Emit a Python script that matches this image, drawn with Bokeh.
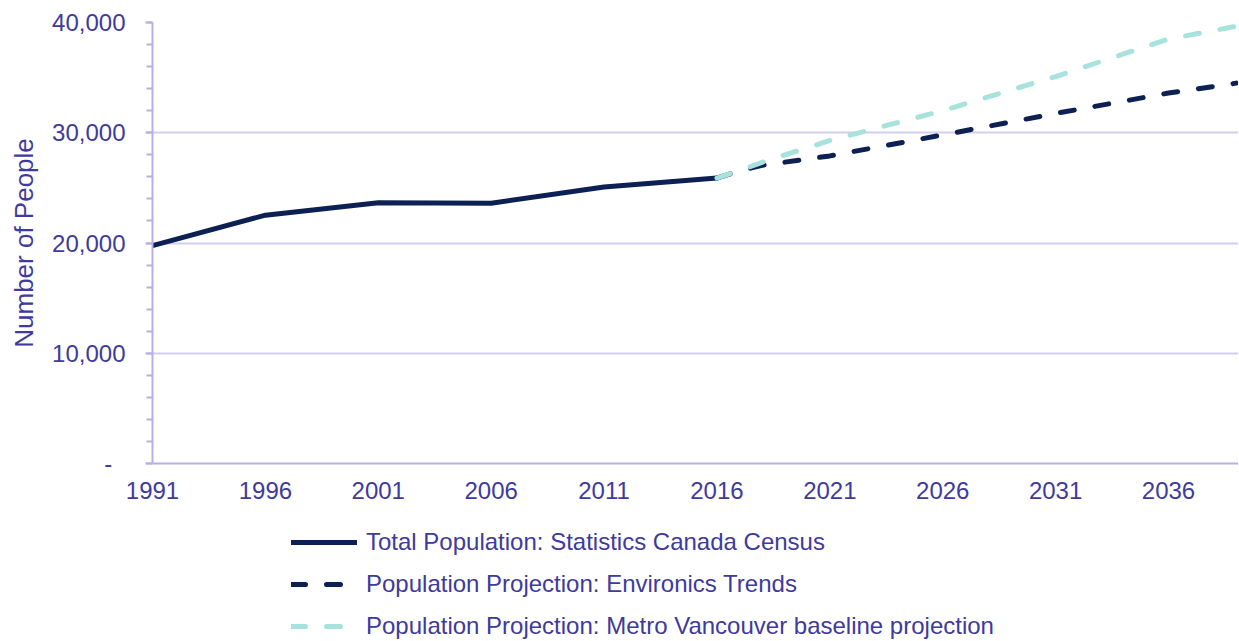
from bokeh.plotting import figure
from bokeh.layouts import column
from bokeh.models import Range1d, FixedTicker, Legend, LegendItem
from bokeh.embed import file_html
from bokeh.resources import INLINE

# ---- data ----
census_years = [1991, 1996, 2001, 2006, 2011, 2016]
census_pop = [19765, 22523, 23643, 23606, 25081, 25888]

env_years = [2016, 2017, 2018, 2021, 2026, 2031, 2036, 2039]
env_pop = [25888, 26550, 27050, 27900, 29800, 31750, 33600, 34500]

mv_years = [2016, 2017, 2018, 2021, 2026, 2031, 2036, 2039]
mv_pop = [25888, 26560, 27320, 29300, 32000, 35100, 38500, 39650]

x_ticks = [1991, 1996, 2001, 2006, 2011, 2016, 2021, 2026, 2031, 2036]
y_ticks = [0, 10000, 20000, 30000, 40000]
y_tick_labels = {0: "-\u2007", 10000: "10,000", 20000: "20,000", 30000: "30,000", 40000: "40,000"}

series_labels = [
    "Total Population: Statistics Canada Census",
    "Population Projection: Environics Trends",
    "Population Projection: Metro Vancouver baseline projection",
]

NAVY = "#0c2054"
TEAL = "#a7e3dc"
TEXT = "#3e3a9e"
AXIS = "#b6b0e4"
GRID = "#d2cef2"
FONT = "Liberation Sans"

styles = [
    dict(line_color=NAVY, line_width=5, line_cap="round", line_join="round"),
    dict(line_color=NAVY, line_width=5, line_dash="14 21", line_cap="round"),
    dict(line_color=TEAL, line_width=5, line_dash="14 21", line_cap="round"),
]

p = figure(width=1238, height=526, output_backend="svg", toolbar_location=None,
           x_range=Range1d(1991, 2039.1), y_range=Range1d(0, 40000),
           min_border_left=152, min_border_right=0, min_border_top=22,
           min_border_bottom=63)
p.outline_line_color = None
p.background_fill_color = "white"

p.line(census_years, census_pop, **styles[0])
p.line(env_years, env_pop, **styles[1])
p.line(mv_years, mv_pop, **styles[2])

# x axis
xa = p.xaxis[0]
xa.ticker = FixedTicker(ticks=x_ticks)
xa.major_tick_out = 0
xa.major_tick_in = 0
xa.minor_tick_out = 0
xa.minor_tick_in = 0
xa.axis_line_color = AXIS
xa.axis_line_width = 2
xa.major_label_text_font = FONT
xa.major_label_text_font_size = "24px"
xa.major_label_text_color = TEXT
xa.major_label_standoff = 18

# y axis
ya = p.yaxis[0]
ya.ticker = FixedTicker(ticks=y_ticks, minor_ticks=list(range(0, 40001, 2000)))
ya.major_label_overrides = y_tick_labels
ya.major_tick_out = 7
ya.major_tick_in = 0
ya.minor_tick_out = 6
ya.minor_tick_in = 0
ya.major_tick_line_color = AXIS
ya.minor_tick_line_color = AXIS
ya.major_tick_line_width = 2
ya.minor_tick_line_width = 2
ya.axis_line_color = AXIS
ya.axis_line_width = 2
ya.major_label_text_font = FONT
ya.major_label_text_font_size = "24px"
ya.major_label_text_color = TEXT
ya.major_label_standoff = 20
ya.axis_label = "Number of People"
ya.axis_label_text_font = FONT
ya.axis_label_text_font_size = "26px"
ya.axis_label_text_font_style = "normal"
ya.axis_label_text_color = TEXT
ya.axis_label_standoff = 10

p.xgrid.grid_line_color = None
p.ygrid.grid_line_color = GRID
p.ygrid.grid_line_width = 2
p.ygrid.ticker = FixedTicker(ticks=y_ticks)

# ---- legend strip below the chart ----
p2 = figure(width=1238, height=114, output_backend="svg", toolbar_location=None,
            x_range=Range1d(0, 1), y_range=Range1d(0, 1),
            x_axis_type=None, y_axis_type=None,
            min_border_left=0, min_border_right=0, min_border_top=0, min_border_bottom=0)
p2.outline_line_color = None
p2.xgrid.visible = False
p2.ygrid.visible = False

# legend keys only (placed outside the visible range of this strip)
keys = [p2.line([5, 6], [5, 6], **s) for s in styles]

legend = Legend(items=[LegendItem(label=lab, renderers=[k]) for lab, k in zip(series_labels, keys)],
                location=(139, 0), orientation="vertical")
legend.label_text_font = FONT
legend.label_text_font_size = "24px"
legend.label_text_color = TEXT
legend.glyph_width = 66
legend.glyph_height = 24
legend.label_height = 24
legend.label_standoff = 9
legend.spacing = 14
legend.padding = 0
legend.margin = 0
legend.border_line_color = None
legend.background_fill_alpha = 0
p2.add_layout(legend, "center")

layout = column(p, p2, spacing=0)
open("out.html", "w").write(file_html(layout, INLINE))
